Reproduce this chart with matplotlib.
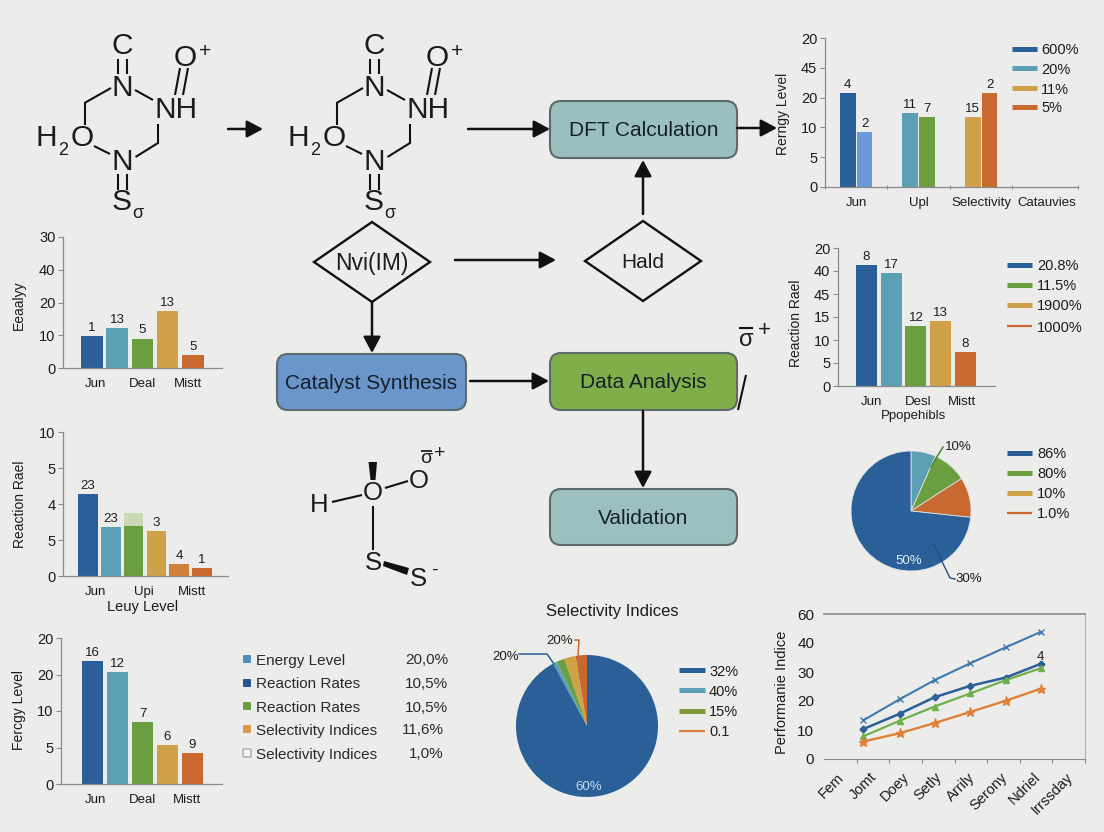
# -*- coding: utf-8 -*-
import matplotlib
matplotlib.use("Agg")
import matplotlib.pyplot as plt
from matplotlib.patches import FancyBboxPatch, Polygon

plt.rcParams['font.family'] = ['Liberation Sans', 'DejaVu Sans']

W, H = 1104, 832
BG = '#ececeb'
BLUE = '#2a5f98'
LBLUE = '#6a9bd6'
TEAL = '#5ba0b4'
GREEN = '#6a9e3e'
GOLD = '#cfa24a'
ORANGE = '#c9682f'
INK = '#1c1c1c'
AXIS = '#8a8a8a'

# top right grouped bars
top_groups = [0, 0, 1, 1, 2, 2]
top_sides = [-1, 1, -1, 1, -1, 1]
top_values = [3.16, 1.85, 2.49, 2.36, 2.36, 3.16]
top_colors = [BLUE, LBLUE, TEAL, GREEN, GOLD, ORANGE]
top_notes = ['4', '2', '11', '7', '15', '2']
top_yticks = ['0', '5', '10', '20', '45', '20']
top_cats = ['Jun', 'Upl', 'Selectivity', 'Catauvies']
top_legend = ['600%', '20%', '11%', '5%']

# left bars, upper
energy_values = [0.98, 1.22, 0.90, 1.74, 0.39]
energy_notes = ['1', '13', '5', '13', '5']
energy_yticks = ['0', '10', '20', '40', '30']
energy_cats = ['Jun', 'Deal', 'Mistt']

# right bars, middle
rate_values = [5.26, 4.91, 2.61, 2.83, 1.48]
rate_notes = ['8', '17', '12', '13', '8']
rate_yticks = ['0', '5', '10', '15', '45', '40', '20']
rate_cats = ['Jun', 'Desl', 'Mistt']
rate_legend = ['20.8%', '11.5%', '1900%', '1000%']

# left bars, middle
leuy_values = [2.27, 1.36, 1.38, 1.25, 0.33, 0.22]
leuy_pale = 1.75
leuy_notes = ['23', '23', '', '3', '4', '1']
leuy_yticks = ['0', '5', '4', '5', '10']
leuy_cats = ['Jun', 'Upi', 'Mistt']

# left bars, bottom
fergy_values = [3.37, 3.07, 1.70, 1.07, 0.85]
fergy_notes = ['16', '12', '7', '6', '9']
fergy_yticks = ['0', '5', '10', '20', '20']
fergy_cats = ['Jun', 'Deal', 'Mistt']

# table legend
table_names = ['Energy Level', 'Reaction Rates', 'Reaction Rates', 'Selectivity Indices', 'Selectivity Indices']
table_pcts = ['20,0%', '10,5%', '10,5%', '11,6%', '1,0%']

# pies
pie_right = [6.7, 9.2, 10.8, 73.3]
pie_right_legend = ['86%', '80%', '10%', '1.0%']
pie_low = [2.6, 2.6, 1.8, 0.9, 92.1]
pie_low_legend = ['32%', '40%', '15%', '0.1']

# line chart
line_cats = ['Fem', 'Jomt', 'Doey', 'Setly', 'Arrily', 'Serony', 'Ndriel', 'Irrssday']
line_x = [1.2, 2.32, 3.39, 4.48, 5.57, 6.64]
line_top = [13.3, 20.6, 27.2, 33.0, 38.5, 43.8]
line_dark = [10.3, 15.6, 21.3, 25.2, 28.1, 32.8]
line_green = [7.8, 13.2, 18.1, 22.6, 27.2, 31.3]
line_orange = [6.0, 8.9, 12.4, 16.2, 20.1, 24.2]
line_yticks = ['0', '10', '20', '30', '40', '60']

fig = plt.figure(figsize=(W / 100, H / 100), dpi=100, facecolor=BG)
canvas = fig.add_axes([0, 0, 1, 1], zorder=3)
canvas.set_xlim(0, W)
canvas.set_ylim(H, 0)
canvas.axis('off')
canvas.patch.set_alpha(0)


def panel(left, right, top, bottom):
    ax = fig.add_axes([left / W, 1 - bottom / H, (right - left) / W, (bottom - top) / H], zorder=2)
    ax.patch.set_alpha(0)
    return ax


def label(x, y, s, size=10, color=INK, ha='center', **kw):
    canvas.text(x, y + 1.5, s, fontsize=size, color=color, ha=ha, va='center', **kw)


def seg(x0, y0, x1, y1, lw=1.5, color='#111111'):
    canvas.plot([x0, x1], [y0, y1], color=color, lw=lw, solid_capstyle='butt')


def arrow(x0, y0, x1, y1):
    canvas.annotate('', xy=(x1, y1), xytext=(x0, y0),
                    arrowprops=dict(arrowstyle='-|>,head_length=0.75,head_width=0.4',
                                    color='#111111', lw=1.8, shrinkA=0, shrinkB=0,
                                    mutation_scale=13))


def box(x0, y0, x1, y1, fc, s, size=15):
    canvas.add_patch(FancyBboxPatch((x0 + 11, y0 + 11), x1 - x0 - 22, y1 - y0 - 22,
                                    boxstyle='round,pad=11,rounding_size=11',
                                    fc=fc, ec='#5c6a6c', lw=1.5))
    label((x0 + x1) / 2, (y0 + y1) / 2, s, size=size, color='#15202a')


def diamond(cx, cy, hw, hh, s, size=15):
    canvas.add_patch(Polygon([(cx - hw, cy), (cx, cy - hh), (cx + hw, cy), (cx, cy + hh)],
                             closed=True, fc='none', ec='#111111', lw=1.7))
    label(cx, cy, s, size=size)


def legend(x0, x1, text_x, ys, names, colors, thick=5.0, last_thin=True, size=10.5):
    for i, (y, name, c) in enumerate(zip(ys, names, colors)):
        lw = 1.6 if last_thin and i == len(ys) - 1 else thick * 0.72
        canvas.plot([x0, x1], [y, y], color=c, lw=lw, solid_capstyle='butt')
        label(text_x, y, name, size=size, ha='left')


def style(ax, yticks, cats, catpos, ylabel, ylabel_xy):
    for side in ['top', 'right']:
        ax.spines[side].set_visible(False)
    for side in ['left', 'bottom']:
        ax.spines[side].set_color(AXIS)
        ax.spines[side].set_linewidth(0.9)
    ax.set_yticks(range(len(yticks)))
    ax.set_yticklabels(yticks)
    ax.set_xticks(catpos)
    ax.set_xticklabels(cats)
    ax.tick_params(axis='x', length=0, pad=7, labelsize=9.5, colors=INK)
    ax.tick_params(axis='y', length=3.5, width=0.8, color=AXIS, pad=2, labelsize=10.5, labelcolor=INK)
    ax.set_ylabel(ylabel, fontsize=10, color=INK)
    ax.yaxis.set_label_coords(ylabel_xy[0], ylabel_xy[1], transform=canvas.transData)


def bars(box_px, first, step, width, values, notes, colors, yticks, cats, catpos,
         ylabel, ylabel_xy, note_size=9.5):
    left, right, top, bottom = box_px
    ax = panel(left, right, top, bottom)
    xs = list(range(len(values)))
    ax.bar(xs, values, width=width, color=colors)
    ax.set_xlim((left - first) / step, (right - first) / step)
    ax.set_ylim(0, len(yticks) - 1)
    for x, v, n in zip(xs, values, notes):
        ax.annotate(n, (x, v), xytext=(0, 1.5), textcoords='offset points', ha='center',
                    va='bottom', fontsize=note_size, color=INK)
    style(ax, yticks, cats, [(p - first) / step for p in catpos], ylabel, ylabel_xy)
    return ax


# molecules
def ring(dx):
    fs = 21.5
    label(122 + dx, 45, 'C', size=fs)
    label(185 + dx, 57, 'O', size=fs)
    label(205 + dx, 50, '+', size=15)
    label(122 + dx, 86, 'N', size=fs)
    label(176 + dx, 108, 'NH', size=fs)
    label(46 + dx, 136, 'H', size=fs)
    label(63 + dx, 149, '2', size=13)
    label(82 + dx, 136, 'O', size=fs)
    label(122 + dx, 161, 'N', size=fs)
    label(122 + dx, 201, 'S', size=fs)
    label(138 + dx, 212, 'σ', size=13)
    for x in (118, 127):
        seg(x + dx, 59, x + dx, 74)
        seg(x + dx, 174, x + dx, 190)
    seg(175 + dx, 95, 180 + dx, 68)
    seg(183 + dx, 95, 188 + dx, 68)
    seg(111 + dx, 88, 84.5 + dx, 103)
    seg(84.5 + dx, 102, 84.5 + dx, 125)
    seg(94 + dx, 146, 110 + dx, 154)
    seg(135.5 + dx, 157, 158 + dx, 143)
    seg(158 + dx, 144, 158 + dx, 124)
    seg(135 + dx, 90, 153 + dx, 100)


ring(0)
ring(252)

label(373, 492, 'O', size=18.5)
label(319, 503, 'H', size=18.5)
label(419, 480, 'O', size=18.5)
label(426, 457, 'σ', size=14)
seg(421, 451, 432, 451, lw=1.2)
label(440, 452, '+', size=14)
label(373, 562, 'S', size=18.5)
label(418, 578, 'S', size=18.5)
label(434, 569, '-', size=14)
seg(332, 502, 362, 495)
seg(385, 488, 408, 481)
seg(373, 506, 373, 550)
canvas.add_patch(Polygon([(368.5, 462), (377, 462), (375.5, 480), (370.5, 480)], fc='#111111', ec='none'))
canvas.add_patch(Polygon([(384, 561), (409, 568), (407, 575), (383, 566)], fc='#111111', ec='none'))

# flow
box(550, 101, 737, 158, '#9bbfc0', 'DFT Calculation')
box(277, 354, 466, 410, '#6b96cb', 'Catalyst Synthesis')
box(550, 353, 737, 410, '#7fae4b', 'Data Analysis')
box(550, 489, 737, 545, '#9cc0c0', 'Validation')
diamond(372, 262, 58, 40, 'Nvi(IM)', size=16.5)
diamond(643, 261, 58, 40, 'Hald')
arrow(228, 129, 263, 129)
arrow(468, 129, 550, 129)
arrow(737, 128, 777, 128)
arrow(455, 260, 556, 260)
arrow(372, 303, 372, 353)
arrow(470, 381, 549, 381)
arrow(643, 214, 643, 160)
arrow(643, 411, 643, 488)
seg(738, 410, 746, 375, lw=1.5)
label(746, 338, 'σ', size=17)
seg(739, 328, 753, 328, lw=1.5)
label(764, 329, '+', size=16)

# top right
ax = panel(825, 1078, 38, 187)
spread = 0.135
ax.bar([g + s * spread for g, s in zip(top_groups, top_sides)], top_values, width=0.25, color=top_colors)
for g, s, v, n in zip(top_groups, top_sides, top_values, top_notes):
    ax.annotate(n, (g + s * spread, v), xytext=(0, 1.5), textcoords='offset points',
                ha='center', va='bottom', fontsize=9.5, color=INK)
ax.set_xlim(-0.5, 3.55)
ax.set_ylim(0, 5)
style(ax, top_yticks, top_cats, [0.01, 1, 2.01, 3.05], 'Rerngy Level', (790, 114))
ax.set_xticks([-0.5, 0.5, 1.5, 2.5, 3.55], minor=True)
ax.tick_params(axis='x', which='minor', length=2.5, width=0.7, color=AXIS, direction='inout')
legend(1012, 1037, 1041, [49, 68, 88, 107], top_legend, [BLUE, TEAL, GOLD, ORANGE], last_thin=False)

# left upper
bars((63, 222, 237, 368), 92, 25.2, 0.86, energy_values, energy_notes,
     [BLUE, TEAL, GREEN, GOLD, ORANGE], energy_yticks, energy_cats, [96, 143, 188],
     'Eeaalyy', (26, 305))

# right middle
bars((838, 995, 248, 386), 866.5, 24.7, 0.85, rate_values, rate_notes,
     [BLUE, TEAL, GREEN, GOLD, ORANGE], rate_yticks, rate_cats, [872, 918, 962],
     'Reaction Rael', (803, 323))
label(914, 414, 'Ppopehibls', size=9.5)
legend(1007, 1032, 1037, [265, 285, 305, 326], rate_legend, [BLUE, GREEN, GOLD, ORANGE])

# left middle
ax = bars((63, 228, 432, 576), 88, 22.8, 0.86, leuy_values, leuy_notes,
          [BLUE, TEAL, GREEN, GOLD, '#d27f39', ORANGE], leuy_yticks, leuy_cats, [96, 144, 192],
          'Reaction Rael', (27, 504))
ax.bar([2], [leuy_pale - leuy_values[2]], bottom=[leuy_values[2]], width=0.86, color='#c9d9b4')
label(143, 605, 'Leuy Level', size=10.5)

# left bottom
bars((61, 222, 638, 784), 92.5, 25, 0.85, fergy_values, fergy_notes,
     [BLUE, TEAL, GREEN, GOLD, ORANGE], fergy_yticks, fergy_cats, [96, 142, 187],
     'Fercgy Level', (26, 710))

# table legend
table_colors = ['#4f8fc0', '#25568f', GREEN, '#d89a45', '#f4f4f4']
table_edges = ['none', 'none', 'none', 'none', '#8a8a8a']
table_rows = [659, 683, 706, 729, 753]
table_right = [448, 448, 448, 444, 444]
for y, name, pct, c, e, rr in zip(table_rows, table_names, table_pcts, table_colors, table_edges, table_right):
    canvas.add_patch(FancyBboxPatch((244, y - 3), 6, 6, boxstyle='round,pad=1,rounding_size=1', fc=c, ec=e, lw=0.7))
    label(256, y, name, size=11, ha='left', color='#2a2a2a')
    label(rr, y, pct, size=11, ha='right', color='#2a2a2a')

# right pie
r = 60
ax = panel(911 - r * 1.25, 911 + r * 1.25, 511 - r * 1.25, 511 + r * 1.25)
ax.pie(pie_right, colors=[TEAL, GREEN, ORANGE, BLUE], startangle=90, counterclock=False,
       wedgeprops=dict(edgecolor='#d9e4e8', linewidth=0.6))
canvas.plot([931, 938, 943], [467, 455, 447], color='#55812f', lw=1.1)
label(958, 446, '10%', size=9.5)
canvas.plot([933, 950, 955], [543, 578, 579], color='#274f7c', lw=1.0)
label(969, 578, '30%', size=9.5)
label(909, 560, '50%', size=9.5, color='#e3eef6')
legend(1007, 1032, 1037, [453, 473, 493, 513], pie_right_legend, [BLUE, GREEN, GOLD, ORANGE])

# bottom pie
r = 71
ax = panel(587 - r * 1.25, 587 + r * 1.25, 726 - r * 1.25, 726 + r * 1.25)
ax.pie(pie_low, colors=[ORANGE, GOLD, GREEN, TEAL, BLUE], startangle=90,
       wedgeprops=dict(edgecolor='none'))
label(612, 610, 'Selectivity Indices', size=12)
label(506, 655, '20%', size=9.5)
canvas.plot([519, 547, 554], [654, 654, 664], color='#2a5f98', lw=1.1)
label(560, 639, '20%', size=9.5)
canvas.plot([575, 579, 578], [640, 640, 655], color=ORANGE, lw=1.1)
label(589, 786, '60%', size=9.5, color='#c9dcea')
legend(679, 705, 709, [670, 690, 711, 731], pie_low_legend, [BLUE, TEAL, '#7f9a3e', '#d9803f'])

# line chart
ax = panel(824, 1085, 614, 759)
ax.plot(line_x, line_top, color='#3f79b2', lw=1.5, marker='x', ms=5)
ax.plot(line_x, line_dark, color=BLUE, lw=1.8, marker='D', ms=3.5)
ax.plot(line_x, line_green, color='#6fb04c', lw=1.6, marker='^', ms=4.5)
ax.plot(line_x, line_orange, color='#e0813a', lw=1.7, marker='*', ms=6.5)
ax.set_xlim(0, 8)
ax.set_ylim(0, 50)
ax.set_yticks(range(0, 60, 10))
ax.set_yticklabels(line_yticks)
ax.set_xticks(range(1, 9))
ax.set_xticklabels([])
ax.set_xticks([i + 0.4 for i in range(8)], minor=True)
ax.set_xticklabels(line_cats, minor=True, rotation=45, ha='right', rotation_mode='anchor', fontsize=10.5)
ax.tick_params(axis='x', which='major', length=3, width=0.8, color=AXIS)
ax.tick_params(axis='x', which='minor', length=0, pad=8, labelcolor=INK)
ax.tick_params(axis='y', length=0, pad=7, labelsize=11, labelcolor=INK)
ax.spines['left'].set_visible(False)
ax.spines['top'].set_color('#9a9a9a')
ax.spines['top'].set_linewidth(1.4)
ax.spines['right'].set_color('#b0b0b0')
ax.spines['right'].set_linewidth(0.8)
ax.spines['bottom'].set_color('#8a8a8a')
ax.set_ylabel('Performanie Indice', fontsize=10.5, color=INK)
ax.yaxis.set_label_coords(789, 692, transform=canvas.transData)
label(1040, 656, '4', size=9.5)

fig.savefig('out.png', dpi=100, facecolor=BG)
